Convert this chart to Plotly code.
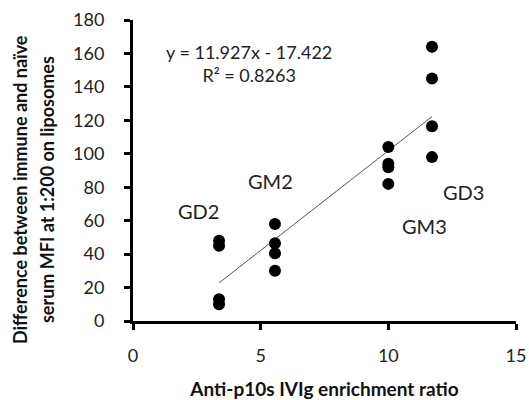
import plotly.graph_objects as go

# Data
groups = ["GD2", "GM2", "GM3", "GD3"]
ratio_x = [3.37, 5.56, 10.0, 11.71]
gd2_y = [48, 45, 13, 10]
gm2_y = [58, 46.5, 40.5, 30]
gm3_y = [104, 94, 92, 82]
gd3_y = [164, 145, 116.5, 98]
slope = 11.927
intercept = -17.422
r2 = 0.8263
label_x = [2.55, 5.4, 11.4, 12.95]
label_y = [66, 84, 57, 77]
x_ticks = [0, 5, 10, 15]
y_ticks = list(range(0, 181, 20))
x_title = "Anti-p10s IVIg enrichment ratio"
y_title_lines = ["Difference between immune and naïve", "serum MFI at 1:200 on liposomes"]

xs, ys = [], []
for x, yl in zip(ratio_x, [gd2_y, gm2_y, gm3_y, gd3_y]):
    xs += [x] * len(yl)
    ys += yl

fit_x = [min(ratio_x), max(ratio_x)]
fit_y = [slope * v + intercept for v in fit_x]

FONT = "Lato"
fig = go.Figure()
fig.add_trace(go.Scatter(x=fit_x, y=fit_y, mode="lines",
                         line=dict(color="#555555", width=1), showlegend=False))
fig.add_trace(go.Scatter(x=xs, y=ys, mode="markers",
                         marker=dict(color="black", size=12, symbol="circle"),
                         showlegend=False))

for g, lx, ly in zip(groups, label_x, label_y):
    fig.add_annotation(x=lx, y=ly, text=g, showarrow=False,
                       font=dict(family=FONT, size=20, color="#222"))

fig.add_annotation(x=4.55, y=154,
                   text=f"y = {slope}x - {abs(intercept)}<br>R² = {r2}",
                   showarrow=False, align="center",
                   font=dict(family=FONT, size=18, color="#222"))

# y-axis title, two lines
for line, shift in zip(y_title_lines, [-113, -86]):
    fig.add_annotation(xref="paper", yref="paper", x=0, y=0.435, xanchor="center",
                       yanchor="middle", xshift=shift, textangle=-90, showarrow=False,
                       text=f"<b>{line}</b>",
                       font=dict(family=FONT, size=18, color="#111"))

fig.update_layout(
    width=529, height=400,
    margin=dict(l=133, r=13, t=20, b=79, autoexpand=False),
    plot_bgcolor="white", paper_bgcolor="white",
    font=dict(family=FONT, color="#222"),
)
fig.update_xaxes(range=[0, 15], tickvals=x_ticks, showgrid=False, zeroline=False,
                 automargin=False,
                 showline=True, linecolor="black", linewidth=3,
                 ticks="outside", ticklen=6, tickwidth=3, tickcolor="black",
                 ticklabelstandoff=10,
                 tickfont=dict(family=FONT, size=18, color="#222"),
                 title=dict(text=f"<b>{x_title}</b>",
                            font=dict(family=FONT, size=19, color="#111"), standoff=20))
fig.update_yaxes(range=[0, 180], tickvals=y_ticks, showgrid=False, zeroline=False,
                 automargin=False,
                 showline=True, linecolor="black", linewidth=3,
                 ticks="outside", ticklen=6, tickwidth=3, tickcolor="black",
                 ticklabelstandoff=16,
                 tickfont=dict(family=FONT, size=18, color="#222"))

fig.write_html("out.html")
